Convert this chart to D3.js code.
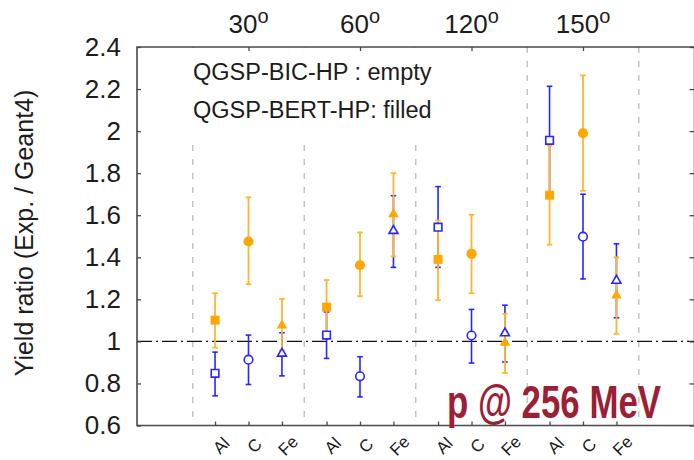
<!DOCTYPE html>
<html>
<head>
<meta charset="utf-8">
<script src="https://cdn.jsdelivr.net/npm/d3@7/dist/d3.min.js"></script>
<style>
  html, body { margin: 0; padding: 0; background: #fff; }
  svg { display: block; font-family: "Liberation Sans", Arial, Helvetica, sans-serif; }
</style>
</head>
<body>
<svg id="chart" width="694" height="460"></svg>
<script>
// Scattering angles (groups) and targets within each group
const angles = ["30", "60", "120", "150"];
const targets = ["Al", "C", "Fe"];
const yTicks = [0.6, 0.8, 1.0, 1.2, 1.4, 1.6, 1.8, 2.0, 2.2, 2.4];
const yTickLabels = ["0.6", "0.8", "1", "1.2", "1.4", "1.6", "1.8", "2", "2.2", "2.4"];

// QGSP-BIC-HP (empty markers): ratio, lower and upper error bounds, per angle x target
const bicValue = [[0.848, 0.913, 0.942], [1.030, 0.834, 1.526], [1.543, 1.028, 1.039], [1.956, 1.498, 1.289]];
const bicLow   = [[0.741, 0.795, 0.836], [0.919, 0.736, 1.352], [1.352, 0.897, 0.902], [1.700, 1.297, 1.112]];
const bicHigh  = [[0.949, 1.030, 1.041], [1.140, 0.927, 1.693], [1.736, 1.152, 1.172], [2.213, 1.700, 1.464]];

// QGSP-BERT-HP (filled markers)
const bertValue = [[1.101, 1.475, 1.076], [1.163, 1.362, 1.605], [1.390, 1.416, 0.994], [1.695, 1.990, 1.219]];
const bertLow   = [[0.970, 1.272, 0.957], [1.034, 1.215, 1.404], [1.196, 1.229, 0.850], [1.460, 1.716, 1.036]];
const bertHigh  = [[1.229, 1.685, 1.202], [1.292, 1.518, 1.800], [1.575, 1.602, 1.131], [1.930, 2.265, 1.400]];

const plotLeft = 137, plotRight = 694.5, plotTop = 47, plotBottom = 425.5;

const svg = d3.select("#chart");
const ink = "#1c1c1c";
const frameColor = "#4a4a4a";
const blue = "#2626ff";
const orange = "#ffa600";
const orangeBar = "#ffb62e";

// Group axis: each angle occupies one unit, targets sit at fixed fractions within it
const x = d3.scaleLinear().domain([-0.5, angles.length + 0.5]).range([plotLeft, plotRight]);
const inner = d3.scalePoint().domain(targets).range([0.2, 0.8]);
const y = d3.scaleLinear().domain([0.6, 2.4]).range([plotBottom, plotTop]);
const pos = (g, t) => x(g + inner(t));

// Build flat records
function records(val, lo, hi) {
  const out = [];
  angles.forEach((a, g) => targets.forEach((t, i) => {
    out.push({ g, t, v: val[g][i], lo: lo[g][i], hi: hi[g][i] });
  }));
  return out;
}
const bic = records(bicValue, bicLow, bicHigh);
const bert = records(bertValue, bertLow, bertHigh);

// Group separators (light grey dashed)
const seps = d3.range(0, angles.length + 1);
svg.append("g").selectAll("line").data(seps).join("line")
  .attr("x1", d => x(d)).attr("x2", d => x(d))
  .attr("y1", plotTop).attr("y2", plotBottom)
  .attr("stroke", "#c4c4c4").attr("stroke-width", 1.5)
  .attr("stroke-dasharray", "6,8");

// Key box (opaque) covering the upper-left corner
svg.append("rect")
  .attr("x", plotLeft + 2).attr("y", plotTop + 1)
  .attr("width", 316).attr("height", 89)
  .attr("fill", "#fff");

svg.append("text").attr("x", 193).attr("y", 80)
  .attr("font-size", 23.5).attr("fill", ink)
  .text("QGSP-BIC-HP : empty");
svg.append("text").attr("x", 193).attr("y", 118)
  .attr("font-size", 23.5).attr("fill", ink)
  .text("QGSP-BERT-HP: filled");

// Reference line at ratio = 1
svg.append("line")
  .attr("x1", plotLeft).attr("x2", plotRight)
  .attr("y1", y(1)).attr("y2", y(1))
  .attr("stroke", "#111").attr("stroke-width", 1.3)
  .attr("stroke-dasharray", "15,4,2,4");

// Error bars
function errorBars(data, color, width) {
  const g = svg.append("g").attr("stroke", color).attr("stroke-width", width).attr("fill", "none");
  data.forEach(d => {
    const cx = pos(d.g, d.t);
    g.append("line").attr("x1", cx).attr("x2", cx).attr("y1", y(d.lo)).attr("y2", y(d.hi));
    g.append("line").attr("x1", cx - 2.8).attr("x2", cx + 2.8).attr("y1", y(d.lo)).attr("y2", y(d.lo));
    g.append("line").attr("x1", cx - 2.8).attr("x2", cx + 2.8).attr("y1", y(d.hi)).attr("y2", y(d.hi));
  });
}
errorBars(bic, blue, 1.6);
errorBars(bert, orangeBar, 1.8);

// Markers: Al square, C circle, Fe triangle
const symbolOf = { Al: d3.symbolSquare, C: d3.symbolCircle, Fe: d3.symbolTriangle };
function markers(data, filled, color, size) {
  svg.append("g").selectAll("path").data(data).join("path")
    .attr("transform", d => `translate(${pos(d.g, d.t)},${y(d.v)})`)
    .attr("d", d => d3.symbol().type(symbolOf[d.t]).size(d.t === "Fe" ? size * 0.6 : size)())
    .attr("fill", filled ? color : "#fff")
    .attr("stroke", color)
    .attr("stroke-width", filled ? 0 : 1.6);
}
markers(bert, true, orange, 80);
markers(bic, false, blue, 58);

// Frame
svg.append("path")
  .attr("d", `M${plotRight},${plotTop}H${plotLeft}V${plotBottom}H${plotRight}V${plotTop}`)
  .attr("fill", "none").attr("stroke", frameColor).attr("stroke-width", 1.6);

// Left axis (inward ticks)
const yAxis = d3.axisLeft(y).tickValues(yTicks)
  .tickFormat((d, i) => yTickLabels[i])
  .tickSizeInner(-4).tickSizeOuter(0).tickPadding(16);
const gy = svg.append("g").attr("transform", `translate(${plotLeft},0)`).call(yAxis);
gy.select(".domain").remove();
gy.selectAll("line").attr("stroke", frameColor).attr("stroke-width", 1.3);
gy.selectAll("text").attr("font-size", 26).attr("fill", ink)
  .attr("font-family", "'Liberation Sans', Arial, sans-serif");

// Right axis (inward ticks, no labels)
const gyR = svg.append("g").attr("transform", `translate(${plotRight},0)`)
  .call(d3.axisRight(y).tickValues(yTicks).tickSizeInner(-5).tickSizeOuter(0).tickFormat(""));
gyR.select(".domain").remove();
gyR.selectAll("line").attr("stroke", frameColor).attr("stroke-width", 1.3);

// Bottom axis: ticks at each target, labels rotated
const allPos = [];
angles.forEach((a, g) => targets.forEach(t => allPos.push({ g, t, p: g + inner(t) })));
const gx = svg.append("g").attr("transform", `translate(0,${plotBottom})`)
  .call(d3.axisBottom(x).tickValues(allPos.map(d => d.p)).tickSizeInner(-4).tickSizeOuter(0).tickFormat(""));
gx.select(".domain").remove();
gx.selectAll("line").attr("stroke", frameColor).attr("stroke-width", 1.3);

svg.append("g").selectAll("text").data(allPos).join("text")
  .attr("transform", d => `translate(${x(d.p) + 6},${plotBottom + 20}) rotate(-45)`)
  .attr("text-anchor", "middle")
  .attr("dy", "0.35em")
  .attr("font-size", 17).attr("fill", ink)
  .text(d => d.t);

// Top axis: ticks at group centres, angle labels above
const centers = angles.map((a, g) => g + 0.5);
const gt = svg.append("g").attr("transform", `translate(0,${plotTop})`)
  .call(d3.axisTop(x).tickValues(centers).tickSizeInner(-4).tickSizeOuter(0).tickFormat(""));
gt.select(".domain").remove();
gt.selectAll("line").attr("stroke", frameColor).attr("stroke-width", 1.3);

const angleText = svg.append("g").selectAll("text").data(angles).join("text")
  .attr("x", (d, g) => x(g + 0.5))
  .attr("y", 33)
  .attr("text-anchor", "middle")
  .attr("font-size", 26).attr("fill", ink);
angleText.append("tspan").text(d => d);
angleText.append("tspan").attr("dy", -10).attr("font-size", 20).text("o");

// Y axis title
svg.append("text")
  .attr("transform", `translate(33,233) rotate(-90)`)
  .attr("text-anchor", "middle")
  .attr("font-size", 25).attr("fill", ink)
  .text("Yield ratio (Exp. / Geant4)");

// Beam annotation
svg.append("text")
  .attr("x", 447).attr("y", 418)
  .attr("font-family", "'Liberation Sans Narrow', 'Liberation Sans', Arial, sans-serif")
  .attr("font-weight", "bold")
  .attr("font-size", 46)
  .attr("textLength", 214).attr("lengthAdjust", "spacingAndGlyphs")
  .attr("fill", "#9c1f35")
  .text("p @ 256 MeV");
</script>
</body>
</html>
